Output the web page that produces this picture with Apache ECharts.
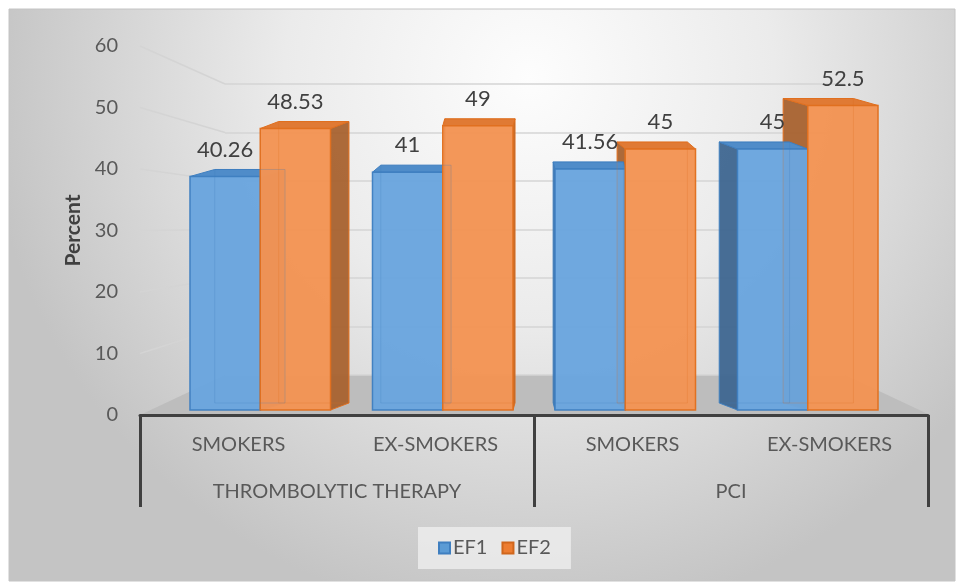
<!DOCTYPE html>
<html>
<head>
<meta charset="utf-8">
<script src="https://cdn.jsdelivr.net/npm/echarts@6/dist/echarts.min.js"></script>
<style>
  html, body { margin: 0; padding: 0; background: #fff; }
  #container { width: 960px; height: 585px; }
</style>
</head>
<body>
<div id="container"></div>
<script>
// data
var subCats = ['SMOKERS', 'EX-SMOKERS', 'SMOKERS', 'EX-SMOKERS'];
var groupCats = ['THROMBOLYTIC THERAPY', 'PCI'];
var ef1 = [40.26, 41, 41.56, 45];
var ef2 = [48.53, 49, 45, 52.5];
var yTicks = [0, 10, 20, 30, 40, 50, 60];

var FONT = 'Lato';
var txtColor = '#595959';

// front plane (axis labels), bar plane, back wall
var front = { left: 140, top: 46, width: 788, height: 369 };
var bars = { left: 169, top: 62, width: 730, height: 348 };
var back = { left: 225, top: 84, width: 620, height: 291 };
var centerX = 535;

var colors = {
  EF1: { front: '#6aa5de', side: '#3e6690', top: '#4f8cc9', stroke: '#3f7fc0' },
  EF2: { front: '#f39454', side: '#a8622f', top: '#e07a34', stroke: '#e06f1f' }
};

function makeBarRender(name, left) {
  var c = colors[name];
  return function (params, api) {
    var i = api.value(0), v = api.value(1);
    var p0 = api.coord([i, 0]);
    var p1 = api.coord([i, v]);
    var bw = api.size([1, 0])[0] * 0.385;
    var x0 = left ? p0[0] - bw : p0[0];
    var x1 = x0 + bw;
    var yt = p1[1], yb = p0[1];
    var dy = -7;
    var edge = (x0 + x1) / 2 < centerX ? x1 : x0;
    var dx = (centerX - edge) * 0.09;
    var children = [];
    // side face
    children.push({
      type: 'polygon', z2: 1,
      shape: { points: [[edge, yt], [edge + dx, yt + dy], [edge + dx, yb + dy], [edge, yb]] },
      style: { fill: c.side, stroke: c.stroke, lineWidth: 1, opacity: 0.95 }
    });
    // top face
    children.push({
      type: 'polygon', z2: 2,
      shape: { points: [[x0, yt], [x1, yt], [x1 + dx, yt + dy], [x0 + dx, yt + dy]] },
      style: { fill: c.top, stroke: c.stroke, lineWidth: 1 }
    });
    // front face
    children.push({
      type: 'rect', z2: 3,
      shape: { x: x0, y: yt, width: bw, height: yb - yt },
      style: { fill: c.front, stroke: c.stroke, lineWidth: 1.5, opacity: 0.97 }
    });
    // back edges seen through the translucent front
    children.push({
      type: 'rect', z2: 4,
      shape: { x: x0 + dx, y: yt + dy, width: bw, height: yb - yt },
      style: { fill: null, stroke: c.stroke, lineWidth: 1, opacity: 0.25 }
    });
    // value label
    children.push({
      type: 'text', z2: 10,
      style: {
        x: (x0 + x1) / 2, y: yt + dy - 9,
        text: String(v), align: 'center', verticalAlign: 'bottom',
        fill: '#404040', fontSize: 22, fontFamily: FONT
      }
    });
    return { type: 'group', children: children };
  };
}

// side-wall connectors from the front axis to the back wall
function wallRender(params, api) {
  var v = api.value(0);
  var yF = front.top + front.height * (1 - v / 60);
  var yB = back.top + back.height * (1 - v / 60);
  if (v === 0) return null;
  return {
    type: 'line', z2: 0,
    shape: { x1: front.left, y1: yF, x2: back.left, y2: yB },
    style: { stroke: '#d4d4d4', lineWidth: 1.5 }
  };
}

var myChart = echarts.init(document.getElementById('container'));
var option = {
  animation: false,
  graphic: [
    {
      type: 'rect', z: -10, silent: true,
      shape: { x: 9, y: 9, width: 946, height: 572 },
      style: {
        fill: new echarts.graphic.RadialGradient(0.55, 0.12, 0.95, [
          { offset: 0, color: '#fdfdfd' },
          { offset: 0.45, color: '#ebebeb' },
          { offset: 1, color: '#c4c4c4' }
        ]),
        stroke: '#c4c4c4', lineWidth: 1
      }
    },
    {
      type: 'polygon', z: -5, silent: true,
      shape: { points: [[front.left, front.top + front.height], [front.left + front.width + 2, front.top + front.height],
        [back.left + back.width, back.top + back.height], [back.left, back.top + back.height]] },
      style: { fill: '#bdbdbd' }
    }
  ],
  legend: {
    data: ['EF1', 'EF2'],
    left: 418,
    top: 527,
    icon: 'rect',
    itemWidth: 11, itemHeight: 11, itemGap: 14,
    padding: [11, 20],
    backgroundColor: 'rgba(240,240,240,0.75)',
    textStyle: { fontSize: 20, color: txtColor, fontFamily: FONT, padding: [0, 0, 0, -2] }
  },
  grid: [
    Object.assign({ containLabel: false }, front),
    Object.assign({ containLabel: false }, bars),
    Object.assign({ containLabel: false }, back)
  ],
  xAxis: [
    {
      type: 'category', gridIndex: 0, data: subCats,
      axisLine: { lineStyle: { color: '#404040', width: 3 } },
      axisTick: { show: false },
      axisLabel: { fontSize: 20, color: txtColor, fontFamily: FONT, margin: 20 }
    },
    {
      type: 'category', gridIndex: 0, data: groupCats, position: 'bottom',
      axisLine: { show: false },
      axisTick: { show: true, length: 92, lineStyle: { color: '#404040', width: 3 } },
      axisLabel: { fontSize: 20, color: txtColor, fontFamily: FONT, margin: 67 }
    },
    { type: 'category', gridIndex: 1, data: subCats, show: false },
    { type: 'value', gridIndex: 2, show: false },
    { type: 'category', gridIndex: 0, data: yTicks, show: false }
  ],
  yAxis: [
    {
      type: 'value', gridIndex: 0, min: 0, max: 60, interval: 10,
      name: 'Percent', nameLocation: 'middle', nameGap: 56, nameRotate: 90,
      nameTextStyle: { fontSize: 21, fontWeight: 'bold', color: '#404040', fontFamily: FONT },
      axisLine: { show: false }, axisTick: { show: false }, splitLine: { show: false },
      axisLabel: { fontSize: 20, color: txtColor, fontFamily: FONT, margin: 22 }
    },
    { type: 'value', gridIndex: 1, min: 0, max: 60, show: false, splitLine: { show: false } },
    {
      type: 'value', gridIndex: 2, min: 0, max: 60, interval: 10,
      axisLine: { show: false }, axisTick: { show: false }, axisLabel: { show: false },
      splitLine: { lineStyle: { color: '#d4d4d4', width: 1.5 } }
    }
  ],
  series: [
    {
      name: 'wall', type: 'custom', xAxisIndex: 4, yAxisIndex: 0,
      data: yTicks.map(function (t) { return [t]; }),
      renderItem: wallRender, silent: true
    },
    {
      name: 'EF1', type: 'custom', xAxisIndex: 2, yAxisIndex: 1,
      itemStyle: { color: '#5b9bd5', borderColor: '#3f7fc0', borderWidth: 1 },
      data: ef1.map(function (v, i) { return [i, v]; }),
      renderItem: makeBarRender('EF1', true)
    },
    {
      name: 'EF2', type: 'custom', xAxisIndex: 2, yAxisIndex: 1,
      itemStyle: { color: '#ed7d31', borderColor: '#d0661c', borderWidth: 1 },
      data: ef2.map(function (v, i) { return [i, v]; }),
      renderItem: makeBarRender('EF2', false)
    }
  ]
};
myChart.setOption(option);
</script>
</body>
</html>
